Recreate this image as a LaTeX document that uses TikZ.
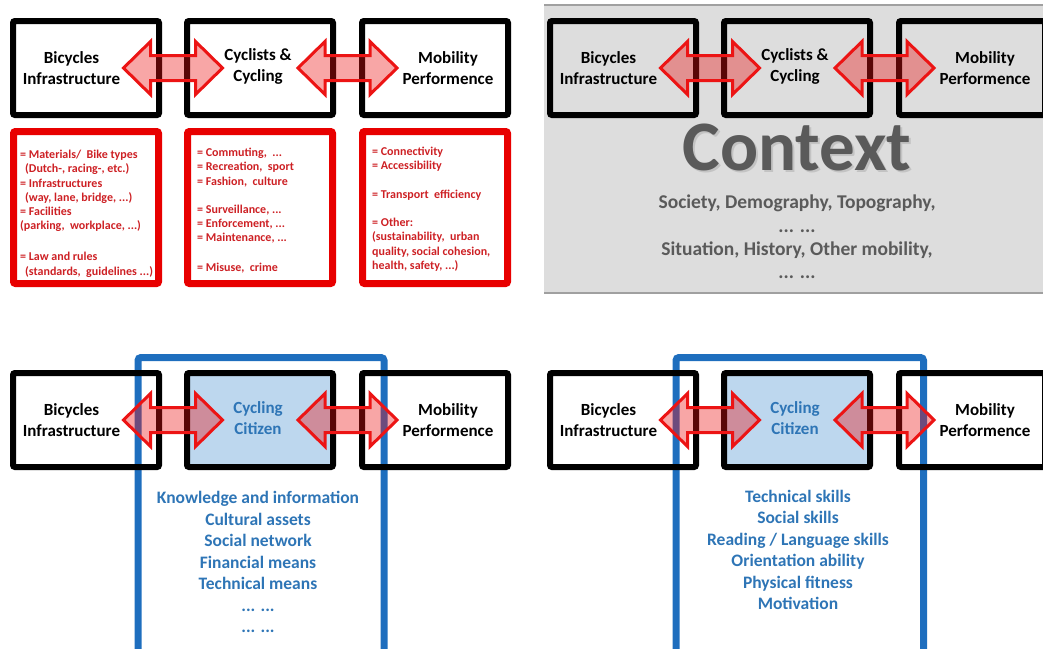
\documentclass[tikz,border=0pt]{standalone}
\usepackage{fontspec}
\setmainfont{Carlito}
\usetikzlibrary{calc}
\definecolor{boxred}{RGB}{232,0,0}
\definecolor{txtred}{RGB}{205,32,36}
\definecolor{arrred}{RGB}{236,20,20}
\definecolor{txtblue}{RGB}{46,117,182}
\definecolor{frameblue}{RGB}{30,110,190}
\definecolor{lightblue}{RGB}{189,215,238}
\definecolor{ctxgrey}{RGB}{221,221,221}
\definecolor{ctxline}{RGB}{160,160,160}
\definecolor{ctxtext}{RGB}{90,90,90}
\tikzset{
  blackbox/.style={draw=black,line width=6pt,minimum width=146pt,minimum height=94pt,inner sep=0pt,rounded corners=2pt},
  redbox/.style={draw=boxred,line width=7pt,minimum width=145pt,minimum height=152pt,inner sep=0pt,rounded corners=2pt},
  boxtext/.style={align=center,inner sep=0pt,font=\fontsize{17}{21}\selectfont\bfseries},
  redtext/.style={align=left,anchor=north west,inner sep=0pt,text=txtred,font=\fontsize{12}{14.2}\selectfont\bfseries},
  bluelist/.style={align=center,inner sep=0pt,text=txtblue,font=\fontsize{17.5}{21.5}\selectfont\bfseries},
  dblarr/.style={draw=arrred,line width=3pt,fill=arrred,fill opacity=0.38,line join=miter},
  blueframe/.style={draw=frameblue,line width=7pt,rounded corners=3pt}
}
\newcommand\dblarrow[3]{%
  \coordinate (#3) at ($(#1.east)!0.5!(#2.west)$);
  \draw[dblarr] ($(#3)+(-49.5,0)$) -- ++(27,-26.5) -- ++(0,14) -- ++(45,0) -- ++(0,-14)
     -- ++(27,26.5) -- ++(-27,26.5) -- ++(0,-14) -- ++(-45,0) -- ++(0,14) -- cycle;
}
\newcommand\boxrow[6]{%
  \node[blackbox] (#1a) at (86+#2,68+#3) {};
  \node[blackbox,#5] (#1b) at (260+#2,68+#3) {};
  \node[blackbox] (#1c) at (435+#2,68+#3) {};
  \node[boxtext] (#1ta) at (71.5+#2,68.5+#3) {Bicycles\\Infrastructure};
  \node[boxtext,#6] (#1tb) at (258+#2,66.5+#3) {#4};
  \node[boxtext] (#1tc) at (448+#2,68.5+#3) {Mobility\\Performence};
  \dblarrow{#1a}{#1b}{#1m1}
  \dblarrow{#1b}{#1c}{#1m2}
}
\begin{document}
\begin{tikzpicture}[x=1pt,y=-1pt]
\useasboundingbox (0,0) rectangle (1043,648);
\clip (0,0) rectangle (1043,648);
% ---------- top left ----------
\boxrow{tl}{0}{0}{Cyclists \&\\Cycling}{}{}
\node[redbox] (r1) at (86,207.5) {};
\node[redbox] (r2) at (260,207.5) {};
\node[redbox] (r3) at (435,207.5) {};
\node[redtext] (r1t) at (20,150) {= Materials/ \ Bike types\\\hspace{5pt}(Dutch-, racing-, etc.)\\= Infrastructures\\\hspace{5pt}(way, lane, bridge, ...)\\= Facilities\\(parking, \ workplace, ...)\\[17pt]= Law and rules\\\hspace{5pt}(standards, \ guidelines ...)};
\node[redtext] (r2t) at (197,148) {= Commuting, \ ...\\= Recreation, \ sport\\= Fashion, \ culture\\[14.2pt]= Surveillance, ...\\= Enforcement, ...\\= Maintenance, ...\\[15pt]= Misuse, \ crime};
\node[redtext] (r3t) at (372,147) {= Connectivity\\= Accessibility\\[14.2pt]= Transport \ efficiency\\[14.2pt]= Other:\\(sustainability, \ urban\\quality, social cohesion,\\health, safety, ...)};
% ---------- top right ----------
\fill[ctxgrey] (544,5) rectangle (1043,293);
\draw[ctxline,line width=2pt] (544,5) -- (1043,5);
\draw[ctxline,line width=2pt] (544,293) -- (1043,293);
\boxrow{tr}{537}{0}{Cyclists \&\\Cycling}{}{}
\node[inner sep=0pt,text=gray!60,opacity=0.6,font=\fontsize{71}{71}\selectfont\bfseries] (ctxsh) at (799,149) {Context};
\node[inner sep=0pt,text=ctxtext,font=\fontsize{71}{71}\selectfont\bfseries] (ctx) at (797,147) {Context};
\node[inner sep=0pt,align=center,text=ctxtext,font=\fontsize{19.5}{23.3}\selectfont\bfseries] (ctxlist) at (797,237) {Society, Demography, Topography,\\... ...\\Situation, History, Other mobility,\\... ...};
% ---------- bottom left ----------
\draw[blueframe] (138,357.5) rectangle (384,670);
\boxrow{bl}{0}{352}{Cycling\\Citizen}{fill=lightblue}{text=txtblue}
\node[bluelist] (bll) at (258,562) {Knowledge and information\\Cultural assets\\Social network\\Financial means\\Technical means\\... ...\\... ...};
% ---------- bottom right ----------
\draw[blueframe] (676,357.5) rectangle (923.5,670);
\boxrow{br}{537}{352}{Cycling\\Citizen}{fill=lightblue}{text=txtblue}
\node[bluelist] (brl) at (798,550) {Technical skills\\Social skills\\Reading / Language skills\\Orientation ability\\Physical fitness\\Motivation};
\end{tikzpicture}
\end{document}
